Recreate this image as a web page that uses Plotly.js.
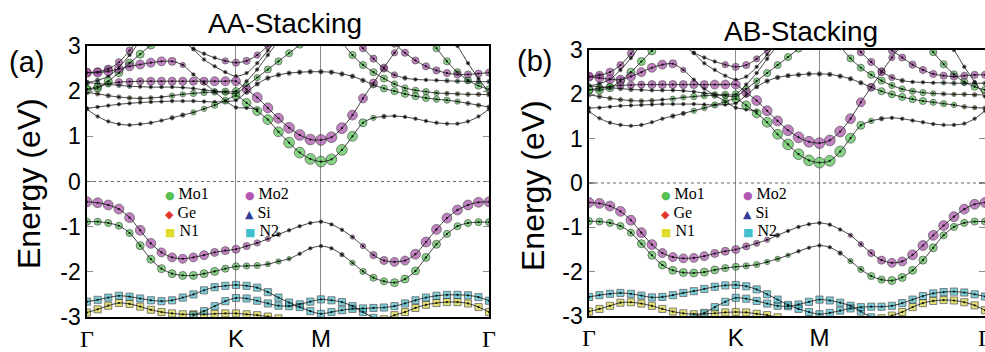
<!DOCTYPE html>
<html>
<head>
<meta charset="utf-8">
<script src="https://cdn.plot.ly/plotly-3.0.1.min.js"></script>
<style>html,body{margin:0;padding:0;background:#fff}</style>
</head>
<body>
<div id="chart" style="width:985px;height:352px"></div>
<script>
// k-path sampling along Γ–K–M–Γ (Γ–K normalised to 1)
const kPath = [
  0.0000,0.0714,0.1429,0.2143,0.2857,0.3571,0.4286,0.5000,0.5714,0.6429,0.7143,0.7857,0.8571,0.9286,1.0000,
  1.0713,1.1426,1.2139,1.2852,1.3565,1.4278,1.4991,1.5705,
  1.6410,1.7115,1.7820,1.8525,1.9230,1.9935,2.0640,2.1345,2.2050,2.2755,2.3460,2.4165,2.4870,2.5575,2.6280,2.6985
];
const kTickVals = [0, 1.0, 1.5705, 2.6985];
const kTickText = ['<span style="font-family:Liberation Serif">Γ</span>', 'K', 'M', '<span style="font-family:Liberation Serif">Γ</span>'];
const eTickVals = [-3, -2, -1, 0, 1, 2, 3];
const eTickText = ['-3', '-2', '-1', '0', '1', '2', '3'];
const atomNames = ['Mo1', 'Ge', 'N1', 'Mo2', 'Si', 'N2'];
const panelTitles = ['AA-Stacking', 'AB-Stacking'];
const panelTags = ['(a)', '(b)'];

function gap(n) { return new Array(n).fill(null); }

// ---------- AA stacking: energies (eV) ----------
const aV1 = [-0.45,-0.47,-0.52,-0.61,-0.80,-1.08,-1.37,-1.57,-1.68,-1.71,-1.68,-1.63,-1.57,-1.53,-1.50,
  -1.43,-1.36,-1.27,-1.17,-1.08,-0.99,-0.92,-0.89,
  -0.95,-1.07,-1.23,-1.43,-1.63,-1.75,-1.78,-1.75,-1.61,-1.34,-1.06,-0.81,-0.63,-0.52,-0.46,-0.45];
const aV2 = [-0.89,-0.89,-0.92,-0.98,-1.14,-1.42,-1.72,-1.93,-2.04,-2.08,-2.08,-2.04,-1.99,-1.93,-1.88,
  -1.87,-1.86,-1.83,-1.77,-1.71,-1.60,-1.48,-1.43,
  -1.48,-1.62,-1.80,-1.99,-2.13,-2.21,-2.24,-2.16,-1.98,-1.68,-1.39,-1.16,-0.99,-0.92,-0.90,-0.90];
const aN2a = [-2.66,-2.62,-2.57,-2.53,-2.55,-2.59,-2.63,-2.65,-2.63,-2.57,-2.50,-2.41,-2.34,-2.31,-2.29,
  -2.31,-2.35,-2.45,-2.57,-2.68,-2.78,-2.87,-2.93,
  -2.89,-2.85,-2.82,-2.81,-2.80,-2.79,-2.76,-2.70,-2.63,-2.57,-2.53,-2.51,-2.51,-2.52,-2.56,-2.64];
const aN2b = [...gap(10),-2.96,-2.87,-2.76,-2.65,-2.58,
  -2.59,-2.64,-2.70,-2.75,-2.76,-2.72,-2.66,-2.61,
  -2.63,-2.67,-2.76,-2.89,-3.02,...gap(11)];
const aN1 = [-2.90,-2.83,-2.75,-2.69,-2.71,-2.77,-2.84,-2.89,-2.92,-2.94,-2.94,-2.94,-2.93,-2.92,-2.92,
  -2.94,-2.96,-2.99,-3.03,...gap(4),
  ...gap(5),-3.05,-2.96,-2.89,-2.80,-2.73,-2.69,-2.67,-2.67,-2.70,-2.78,-2.89];
const aC1 = [1.60,1.44,1.33,1.27,1.25,1.27,1.30,1.35,1.41,1.47,1.53,1.61,1.69,1.79,1.90,
  1.74,1.56,1.37,1.10,0.86,0.64,0.50,0.44,
  0.49,0.70,1.00,1.30,1.41,1.44,1.45,1.43,1.39,1.34,1.30,1.28,1.28,1.33,1.44,1.60];
const aC2 = [2.04,2.10,2.16,2.20,2.21,2.22,2.22,2.22,2.22,2.22,2.22,2.22,2.22,2.22,2.22,
  2.04,1.86,1.63,1.40,1.19,1.03,0.93,0.92,
  0.98,1.18,1.47,1.84,2.18,2.52,2.85,3.15,...gap(8)];
const aC3 = [2.41,2.41,2.44,2.49,2.55,2.59,2.63,2.66,2.66,2.58,2.37,2.18,1.99,1.79,1.64,
  1.63,1.60,...gap(6),...gap(16)];
const aC4 = [1.62,1.65,1.68,1.71,1.73,1.75,1.76,1.77,1.78,1.78,1.78,1.77,1.76,1.77,1.80,
  1.98,2.16,2.29,2.36,2.40,2.42,2.43,2.43,
  2.42,2.38,2.33,2.24,2.14,2.06,2.00,1.94,1.89,1.85,1.82,1.80,1.77,1.73,1.69,1.65];
const aC5 = [2.19,2.17,2.15,2.13,2.11,2.10,2.09,2.09,2.09,2.08,2.06,2.03,2.00,1.97,1.95,
  2.12,2.30,2.48,2.66,2.84,3.03,...gap(2),...gap(16)];
const aC6 = [1.97,1.94,1.90,1.87,1.85,1.84,1.85,1.87,1.90,1.93,1.95,1.97,1.98,1.99,2.00,
  2.22,2.48,2.80,3.12,...gap(4),...gap(16)];
const aC7 = [2.41,2.43,2.49,2.64,2.90,3.20,...gap(33)];
const aC8 = [2.19,2.24,2.33,2.53,2.80,3.12,...gap(33)];
const aC9 = [2.04,2.07,2.22,2.41,2.62,2.82,3.02,...gap(32)];
const aC10 = [...gap(9),3.10,2.94,2.83,2.74,2.67,2.63,
  2.67,2.80,3.00,3.20,...gap(4),...gap(16)];
const aC11 = [...gap(10),2.93,2.70,2.55,2.42,2.33,
  2.40,2.62,2.90,3.20,...gap(4),...gap(16)];
const aC13 = [...gap(23),null,3.08,2.80,2.58,2.42,2.28,2.16,2.07,2.02,1.99,1.96,1.95,1.94,1.93,1.93,1.92];
const aC14 = [...gap(23),null,null,3.20,2.95,2.72,2.50,2.36,2.29,2.26,2.25,2.24,2.23,2.22,2.22,2.21,2.21];
const aC15 = [...gap(23),...gap(6),3.05,2.85,2.68,2.55,2.46,2.40,2.37,2.37,2.39,2.41];
const aC16 = [...gap(23),...gap(9),3.20,2.95,2.66,2.42,2.24,2.12,2.04];
const aC17 = [...gap(23),...gap(11),3.30,3.00,2.62,2.28,1.97];

// ---------- AB stacking: energies (eV) ----------
const bV1 = [-0.44,-0.46,-0.52,-0.64,-0.84,-1.12,-1.39,-1.58,-1.67,-1.70,-1.69,-1.65,-1.59,-1.54,-1.50,
  -1.43,-1.36,-1.28,-1.18,-1.08,-0.99,-0.93,-0.90,
  -0.94,-1.05,-1.18,-1.38,-1.58,-1.74,-1.80,-1.77,-1.62,-1.41,-1.18,-0.96,-0.76,-0.59,-0.48,-0.44];
const bV2 = [-0.86,-0.87,-0.90,-0.97,-1.12,-1.37,-1.63,-1.85,-1.97,-2.02,-2.03,-2.01,-1.96,-1.92,-1.89,
  -1.87,-1.84,-1.78,-1.71,-1.63,-1.54,-1.46,-1.41,
  -1.45,-1.58,-1.76,-1.95,-2.10,-2.18,-2.20,-2.13,-1.97,-1.74,-1.46,-1.18,-0.99,-0.90,-0.87,-0.87];
const bN2a = [-2.57,-2.53,-2.50,-2.48,-2.50,-2.54,-2.58,-2.57,-2.53,-2.48,-2.44,-2.39,-2.34,-2.31,-2.30,
  -2.33,-2.40,-2.51,-2.63,-2.75,-2.84,-2.91,-2.96,
  -2.93,-2.88,-2.83,-2.80,-2.79,-2.79,-2.77,-2.71,-2.63,-2.55,-2.49,-2.46,-2.45,-2.47,-2.51,-2.56];
const bN2b = [...gap(10),-3.02,-2.93,-2.80,-2.68,-2.59,
  -2.61,-2.66,-2.72,-2.77,-2.78,-2.74,-2.68,-2.63,
  -2.65,-2.70,-2.77,-2.90,-3.03,...gap(11)];
const bN1 = [-2.90,-2.84,-2.77,-2.70,-2.69,-2.72,-2.77,-2.84,-2.90,-2.94,-2.96,-2.95,-2.94,-2.92,-2.91,
  -2.92,-2.95,-2.98,-3.03,...gap(4),
  ...gap(5),-3.05,-2.99,-2.91,-2.80,-2.71,-2.66,-2.64,-2.65,-2.69,-2.76,-2.87];
const bC1 = [1.61,1.46,1.36,1.31,1.29,1.31,1.37,1.45,1.51,1.57,1.63,1.69,1.76,1.83,1.90,
  1.75,1.57,1.37,1.10,0.87,0.65,0.51,0.46,
  0.50,0.71,1.01,1.30,1.40,1.45,1.47,1.45,1.41,1.37,1.33,1.31,1.31,1.34,1.45,1.63];
const bC2 = [2.10,2.14,2.18,2.20,2.21,2.22,2.22,2.22,2.22,2.22,2.22,2.22,2.22,2.22,2.22,
  2.04,1.86,1.63,1.40,1.19,1.03,0.93,0.90,
  0.96,1.16,1.45,1.82,2.16,2.50,2.83,3.13,...gap(8)];
const bC3 = [2.40,2.37,2.34,2.33,2.40,2.50,2.60,2.67,2.69,2.55,2.33,2.13,1.98,1.84,1.70,
  1.66,1.62,...gap(6),...gap(16)];
const bC4 = [1.69,1.70,1.72,1.74,1.75,1.76,1.77,1.78,1.78,1.78,1.78,1.77,1.76,1.77,1.80,
  1.98,2.17,2.30,2.38,2.42,2.44,2.46,2.46,
  2.45,2.41,2.35,2.26,2.16,2.07,2.00,1.94,1.89,1.85,1.82,1.79,1.76,1.72,1.70,1.69];
const bC5 = [2.19,2.17,2.15,2.13,2.11,2.10,2.09,2.09,2.09,2.08,2.06,2.03,2.00,1.97,1.95,
  2.12,2.30,2.48,2.66,2.84,3.03,...gap(2),...gap(16)];
const bC6 = [1.99,1.95,1.91,1.88,1.86,1.85,1.86,1.88,1.90,1.93,1.95,1.97,1.98,1.99,2.00,
  2.22,2.48,2.80,3.12,...gap(4),...gap(16)];
const bC7 = [2.40,2.43,2.50,2.66,2.92,3.22,...gap(33)];
const bC8 = [2.19,2.24,2.34,2.55,2.82,3.14,...gap(33)];
const bC9 = [2.10,2.10,2.15,2.30,2.50,2.74,2.98,3.20,...gap(31)];
const bC10 = [...gap(9),3.10,2.94,2.83,2.74,2.67,2.62,
  2.66,2.80,3.00,3.20,...gap(4),...gap(16)];
const bC11 = [...gap(10),2.93,2.70,2.55,2.42,2.33,
  2.40,2.62,2.90,3.20,...gap(4),...gap(16)];
const bC13 = [...gap(23),null,3.08,2.81,2.60,2.44,2.31,2.20,2.12,2.07,2.04,2.02,2.01,2.00,2.00,1.99,1.99];
const bC14 = [...gap(23),null,null,3.20,2.95,2.73,2.52,2.38,2.31,2.28,2.27,2.26,2.26,2.25,2.25,2.25,2.25];
const bC15 = [...gap(23),...gap(6),2.99,2.83,2.67,2.55,2.46,2.42,2.40,2.42,2.44,2.44];
const bC16 = [...gap(23),...gap(9),3.20,2.95,2.68,2.45,2.28,2.17,2.10];
const bC17 = [...gap(23),...gap(11),3.30,3.00,2.62,2.28,1.95];

// ---------- orbital weights (0–9) and dominant atom per k-point ----------
function fromIndex(i0, arr) { return [...new Array(i0).fill(1), ...arr]; }
const wV1 = [8,8,8,8,8,8,8,7,7,7,7,7,6,6,6, 5,4,3,2,1,1,1,1, 1,1,2,3,5,6,7,7,8,8,8,8,8,8,8,8];
const wV2 = [5,5,5,5,5,6,6,6,6,6,6,6,6,5,5, 4,4,3,3,2,1,1,1, 1,2,3,4,5,5,6,6,6,6,6,5,5,5,5,5];
const wC1 = [1,1,1,1,1,1,1,1,2,2,3,3,4,5,6, 7,7,8,8,9,9,9,9, 9,9,8,6,3,2,1,1,1,1,1,1,1,1,1,1];
const wC2 = [6,5,4,5,5,5,6,6,6,6,6,6,7,7,7, 7,8,8,8,9,9,9,9, 9,9,8,7,6,5,4,3,1,1,1,1,1,1,1,1];
const wC3 = [7,7,7,7,7,7,7,7,6,3];
const wC4 = [1,1,1,1,1,1,1,1,1,1,1,1,1,1,1, 2,2,2,2,2,2,2,2, 2,2,2,2,4,5,5,5,5,5,4,4,3,2,2,2];
const wC5 = [2,2,2,2,2,1,1,1,1,1,1,1,3,3,4, 4,4,5,5,5,5];
const wC6 = [2,2,2,2,2,2,2,1,3,3,4,4,4,5,5];
const wC7 = [6,6,6,5,5,5];
const wC8 = [2,2,1,1,1,1];
const wC9 = [6,6,6,6,6,6,6,6];
const wC10 = [1,1,1,1,1,1,1,1,1,1,1,1,1,4,5, 5,4,4,4];
const wC13 = fromIndex(23, [1,5,5,5,5,5,4,4,4,4,3,2,2,2,2,2]);
const wC14 = fromIndex(23, [1,1,5,5,5,5,4,2,1,1,1,2,2,2,2,2]);
// run-length atom codes: G Mo1, P Mo2, C N2, Y N1, T/O mixed N, K none, R Ge-like
const cV1 = 'P18K7P14', cV2 = 'G20K5G14';
const cC1 = 'O8K2G18K6O5', cC2 = 'G3P28K8', cC3 = 'P10K29', cC4 = 'K27G9O3';
const cC5 = 'T5K7G9K18', cC6 = 'O7K1G7K24', cC8 = 'T2K37', cC10 = 'K13P26';
const cC13 = 'K24G10O5', cC14 = 'K25P5K4T5';

const atomColor = {G:'#52c452', P:'#aa4caa', C:'#43bccb', Y:'#d8d43a', T:'#2f7573', O:'#6f6d35', K:'#1c1c1c', R:'#7c2f2f'};

function expand(rle) {
  const out = [];
  rle.replace(/([A-Z])(\d+)/g, (m, c, n) => { for (let i = 0; i < +n; i++) out.push(c); return m; });
  return out;
}
function weightAt(w, i) { return Array.isArray(w) ? (w[i] != null ? w[i] : 1) : w; }

function panelBands(p) {
  const A = p === 'a';
  const pick = (a, b) => A ? a : b;
  return [
    [pick(aC17,bC17),1,'K39'], [pick(aC16,bC16),5,'G39'], [pick(aC15,bC15),5,'P39'],
    [pick(aC14,bC14),wC14,cC14], [pick(aC13,bC13),wC13,cC13],
    [pick(aC11,bC11),1,'R39'], [pick(aC10,bC10),wC10,cC10],
    [pick(aC8,bC8),wC8,cC8], [pick(aC7,bC7),wC7,'P39'], [pick(aC9,bC9),wC9,'G39'],
    [pick(aC6,bC6),wC6,cC6], [pick(aC5,bC5),wC5,cC5],
    [pick(aC4,bC4),wC4,cC4], [pick(aC3,bC3),wC3,cC3],
    [pick(aC2,bC2),wC2,cC2], [pick(aC1,bC1),wC1,cC1],
    [pick(aN1,bN1),5,'Y39'], [pick(aN2b,bN2b),5,'C39'], [pick(aN2a,bN2a),5,'C39'],
    [pick(aV2,bV2),wV2,cV2], [pick(aV1,bV1),wV1,cV1]
  ];
}

const fatTraces = [], lineTraces = [];
[['a','x','y'], ['b','x2','y2']].forEach(([p, xa, ya]) => {
  panelBands(p).forEach(([e, w, code]) => {
    const c = expand(code);
    fatTraces.push({
      type: 'scatter', mode: 'markers', x: kPath, y: e, xaxis: xa, yaxis: ya,
      hoverinfo: 'skip', showlegend: false, cliponaxis: true,
      marker: {
        size: e.map((v, i) => 2.6 + 0.9 * weightAt(w, i)),
        color: e.map((v, i) => atomColor[c[i] || 'K']),
        symbol: e.map((v, i) => (c[i] === 'C' || c[i] === 'Y') ? 'square' : 'circle'),
        line: {color: '#222', width: 0.8}
      }
    });
    lineTraces.push({
      type: 'scatter', mode: 'lines+markers', x: kPath, y: e, xaxis: xa, yaxis: ya,
      hoverinfo: 'skip', showlegend: false, connectgaps: false, cliponaxis: true,
      line: {color: '#111', width: 0.8, shape: 'spline', smoothing: 0.8},
      marker: {size: 2.2, color: '#111'}
    });
  });
});

const W = 985, H = 352;
const px = v => v / W, py = v => 1 - v / H;

const xAxisBase = {
  range: [0, 2.6985], tickvals: kTickVals, ticktext: kTickText, ticks: '',
  showgrid: true, gridcolor: '#8c8c8c', gridwidth: 1, zeroline: false,
  showline: true, mirror: true, linecolor: '#000', linewidth: 1.6,
  tickfont: {family: 'Liberation Sans, Arial, sans-serif', size: 24, color: '#000'},
  ticklabelstandoff: 0, ticklabeloverflow: 'allow', fixedrange: true
};
const yAxisBase = {
  range: [-3, 3], tickvals: eTickVals, ticktext: eTickText,
  ticks: 'inside', ticklen: 6, tickwidth: 1.2, tickcolor: '#8c8c8c',
  showgrid: false, zeroline: false, showline: true, mirror: 'ticks',
  linecolor: '#000', linewidth: 1.6,
  tickfont: {family: 'Liberation Sans, Arial, sans-serif', size: 23, color: '#000'},
  fixedrange: true
};

// legend entries: glyph + atom label, two columns of three
const glyphs = [['●','#55c155'], ['◆','#e5352e'], ['■','#e0dc2c'], ['●','#b257b2'], ['▲','#2f3c9c'], ['■','#41c0cf']];
const legendAnn = [];
[[163, 243], [659, 741]].forEach(cols => {
  atomNames.forEach((name, i) => {
    const col = i < 3 ? 0 : 1, row = i % 3;
    const [g, col0] = glyphs[i];
    legendAnn.push({
      xref: 'paper', yref: 'paper', x: px(cols[col]), y: py([193, 212, 230][row]),
      xanchor: 'left', yanchor: 'middle', showarrow: false,
      text: '<span style="font-family:DejaVu Sans;font-size:11px;color:' + col0 + '">' + g + '</span> ' + name,
      font: {family: 'Liberation Serif, Times New Roman, serif', size: 16, color: '#000'}
    });
  });
});

const textAnn = [
  {x: px(285), y: py(24), text: panelTitles[0], font: {size: 28}},
  {x: px(801), y: py(31), text: panelTitles[1], font: {size: 28}},
  {x: px(26), y: py(62), text: panelTags[0], font: {size: 29}},
  {x: px(534), y: py(61), text: panelTags[1], font: {size: 29}},
  {x: px(29), y: py(184), text: 'Energy (eV)', textangle: -90, font: {size: 32}},
  {x: px(533), y: py(186), text: 'Energy (eV)', textangle: -90, font: {size: 32}}
].map(a => Object.assign({xref: 'paper', yref: 'paper', xanchor: 'center', yanchor: 'middle', showarrow: false}, a,
  {font: Object.assign({family: 'Liberation Sans, Arial, sans-serif', color: '#000'}, a.font)}));

const layout = {
  width: W, height: H, margin: {l: 0, r: 0, t: 0, b: 0},
  paper_bgcolor: '#fff', plot_bgcolor: '#fff', showlegend: false, hovermode: false,
  font: {family: 'Liberation Sans, Arial, sans-serif', color: '#000'},
  xaxis: Object.assign({}, xAxisBase, {domain: [px(87), px(489)], anchor: 'y'}),
  yaxis: Object.assign({}, yAxisBase, {domain: [1 - 317 / H, 1 - 46 / H], anchor: 'x'}),
  xaxis2: Object.assign({}, xAxisBase, {domain: [px(589), 1], anchor: 'y2'}),
  yaxis2: Object.assign({}, yAxisBase, {domain: [1 - 316 / H, 1 - 50 / H], anchor: 'x2'}),
  shapes: [
    {type: 'line', xref: 'x domain', yref: 'y', x0: 0, x1: 1, y0: 0, y1: 0, line: {color: '#666', width: 1, dash: 'dot'}},
    {type: 'line', xref: 'x2 domain', yref: 'y2', x0: 0, x1: 1, y0: 0, y1: 0, line: {color: '#666', width: 1, dash: 'dot'}}
  ],
  annotations: [...textAnn, ...legendAnn]
};

Plotly.newPlot('chart', [...fatTraces, ...lineTraces], layout, {staticPlot: true, displayModeBar: false});
</script>
</body>
</html>
